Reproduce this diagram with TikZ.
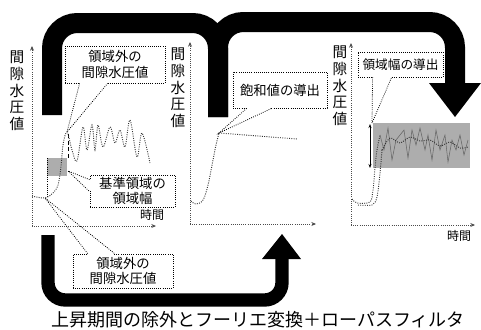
\documentclass[tikz,border=0pt]{standalone}
\usepackage{fontspec}
\newfontfamily\jpfont{Noto Sans CJK JP}
\usetikzlibrary{arrows.meta,calc}
\tikzset{
  axis/.style={densely dotted, line width=0.6pt, black!70, -{Stealth[length=3.5pt,width=3pt]}},
  sig/.style={densely dotted, line width=0.7pt, black!80},
  band/.style={line width=15pt, black, rounded corners=19pt},
  thinband/.style={line width=10pt, black, rounded corners=13pt},
  callbox/.style={draw, densely dotted, line width=0.6pt, fill=white, inner sep=0pt, align=center,
    font=\jpfont\fontsize{10}{11.5}\selectfont},
  callline/.style={densely dotted, line width=0.6pt},
  gap/.style={white, line width=1.4pt},
  ylab/.style={align=center, inner sep=0pt, font=\jpfont\fontsize{11}{12.5}\selectfont},
  tlab/.style={inner sep=0pt, font=\jpfont\fontsize{9}{10}\selectfont},
  region/.style={fill=black!32}
}
\begin{document}
\begin{tikzpicture}[x=0.75pt,y=-0.75pt]
      \useasboundingbox (0,0) rectangle (481,329);
      % thick arrows
      \draw[band] (52,115) -- (52,23) -- (218,23) -- (218,117);
      \draw[band] (218,117) -- (218,22) -- (455,22) -- (455,84);
      \fill (429,83) -- (481,83) -- (455,117) -- cycle;
      \draw[thinband] (48,235) -- (48,300) -- (282,300) -- (282,259);
      \fill (262,259) -- (301,259) -- (282,234) -- cycle;
      % axes
      \draw[axis] (32,226) -- (32,46);
      \draw[axis] (32,226) -- (156,226);
      \draw[axis] (190,224) -- (190,42);
      \draw[axis] (190,224) -- (316,224);
      \draw[axis] (351,225) -- (351,43);
      \draw[axis] (351,225) -- (475,225);
      \node[ylab] (y1) at (17,91) {間\\隙\\水\\圧\\値};
      \node[ylab] (y2) at (178,88) {間\\隙\\水\\圧\\値};
      \node[ylab] (y3) at (340,86) {間\\隙\\水\\圧\\値};
      \node[tlab] (x1) at (152,215) {時間};
      \node[tlab] (x3) at (459,236) {時間};
      % plot 1
      \fill[region] (47,158) rectangle (67,176);
      \draw[callline] (47,158) -- (47,197);
      \draw[densely dashed, line width=0.6pt] (68,134) -- (68,160);
      \draw[sig] plot[smooth, tension=0.55] coordinates {(32,196) (45,198) (53,193) (58,185)
        (61,167) (63,145) (67,132) (72,150) (77,161) (83,127) (87,150) (92,125) (95,150)
        (98,125) (103,147) (110,127) (115,143) (120,130) (125,147) (130,120) (137,157)
        (142,133) (150,163)};
      % plot 2
      \draw[sig] plot[smooth, tension=0.6] coordinates {(191,201) (196,204) (203,200)
        (208,185) (213,160) (216,145) (219,133)};
      \draw[sig] (219,133) -- (297,139);
      % plot 3
      \fill[region] (373,123) rectangle (470,168);
      \draw[sig] plot[smooth, tension=0.5] coordinates {(352,199) (357,203) (370,202)
        (373,190) (375,168) (377,150) (380,135)};
      \draw[sig] plot[smooth, tension=0.5] coordinates {(358,205) (372,205) (377,197)
        (380,173) (382,150)};
      \draw[black!60, line width=0.4pt] (380,135) -- (384,150) -- (388,128) -- (392,160)
        -- (396,140) -- (400,135) -- (404,130) -- (408,158) -- (412,130) -- (416,145)
        -- (420,128) -- (425,150) -- (428,135) -- (432,160) -- (436,130) -- (440,150)
        -- (445,135) -- (448,162) -- (452,140) -- (456,150) -- (460,135) -- (464,155)
        -- (468,140);
      \draw[sig] plot[smooth] coordinates {(382,150) (390,138) (400,143) (410,137)
        (420,141) (430,140) (440,146) (450,142) (460,148) (468,147)};
      \draw[{Stealth[length=3pt]}-{Stealth[length=3pt]}, line width=0.6pt] (370,124) -- (370,168);
      % callouts
      \node[callbox, minimum width=75pt, minimum height=27.75pt] (t1) at (115,64.5) {領域外の\\間隙水圧値};
      \node[callbox, minimum width=75pt, minimum height=25.5pt] (b1) at (123,271) {領域外の\\間隙水圧値};
      \node[callbox, minimum width=63.75pt, minimum height=24pt] (r1) at (132.5,191) {基準領域の\\領域幅};
      \node[callbox, minimum width=70.5pt, minimum height=27pt] (s2) at (280,90) {飽和値の導出};
      \node[callbox, minimum width=63.75pt, minimum height=18.75pt,
        font=\jpfont\fontsize{9.5}{11}\selectfont] (w3) at (400.5,64.5) {領域幅の導出};
      \coordinate (t1tip) at (67,132);
      \coordinate (b1tip) at (45,198);
      \coordinate (r1tip) at (68,171);
      \coordinate (s2tip) at (219,133);
      \coordinate (w3tip) at (372,123);
      \draw[gap] ($(t1.south west)+(15.5,0)$) -- ($(t1.south west)+(42.5,0)$);
      \draw[callline] ($(t1.south west)+(15,0)$) -- (t1tip) -- ($(t1.south west)+(43,0)$);
      \draw[gap] ($(b1.north west)+(15.5,0)$) -- ($(b1.north west)+(41.5,0)$);
      \draw[callline] ($(b1.north west)+(15,0)$) -- (b1tip) -- ($(b1.north west)+(42,0)$);
      \draw[gap] ($(r1.north west)+(0,5.5)$) -- ($(r1.north west)+(0,16.5)$);
      \draw[callline] ($(r1.north west)+(0,5)$) -- (r1tip) -- ($(r1.north west)+(0,17)$);
      \draw[gap] ($(s2.south west)+(14.5,0)$) -- ($(s2.south west)+(38.5,0)$);
      \draw[callline] ($(s2.south west)+(14,0)$) -- (s2tip) -- ($(s2.south west)+(39,0)$);
      \draw[gap] ($(w3.south west)+(15.5,0)$) -- ($(w3.south west)+(33.5,0)$);
      \draw[callline] ($(w3.south west)+(15,0)$) -- (w3tip) -- ($(w3.south west)+(34,0)$);
      % caption
      \node[inner sep=0pt, font=\jpfont\fontsize{13.5}{15}\selectfont] (cap) at (258,320)
        {上昇期間の除外とフーリエ変換＋ローパスフィルタ};
    \end{tikzpicture}
\end{document}
